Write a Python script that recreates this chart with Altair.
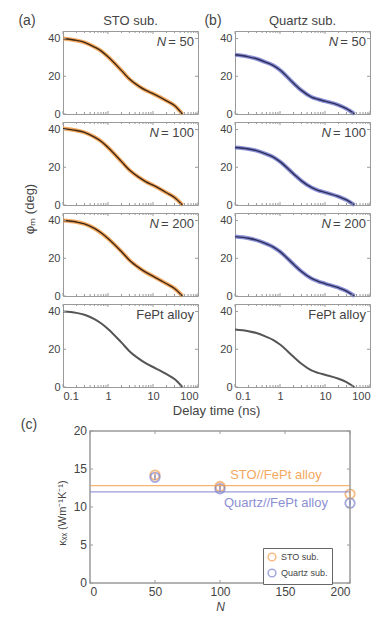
import altair as alt
import pandas as pd

# ---------------- data ----------------
t_ns = [0.1, 0.2, 0.3, 0.5, 0.7, 1, 2, 3, 5, 7, 10, 20, 30, 45]

sto_50 = [40, 39, 38, 35.5, 33.5, 30.3, 23, 18.5, 14.5, 12.5, 10.8, 7, 4.5, 0]
sto_100 = [40.5, 39.5, 38.5, 36, 33.8, 30.5, 23, 18.5, 14.5, 12.3, 10.5, 6.5, 4, 0]
sto_200 = [40, 39.2, 38.2, 35.8, 33.5, 30.5, 23.5, 19, 14.8, 12.5, 10.5, 6.5, 4, 0]
fept_a = [40, 39.3, 38.3, 36, 33.8, 30.8, 23.5, 19, 14.8, 12.5, 10.6, 6.8, 4.2, 0]

quartz_50 = [31.4, 30.3, 29.3, 27.3, 25.8, 23.3, 16.3, 12.5, 9, 7.8, 6.8, 4.7, 2.8, 0]
quartz_100 = [30.5, 29.7, 28.8, 27, 25.5, 23, 16.5, 12.8, 9.3, 7.8, 6.7, 4.5, 2.7, 0]
quartz_200 = [31.5, 30.6, 29.6, 27.6, 26, 23.5, 16.8, 13, 9.3, 7.8, 6.6, 4.4, 2.6, 0]
fept_b = [30.5, 29.6, 28.6, 26.6, 25, 22.5, 16, 12.3, 8.8, 7.5, 6.5, 4.4, 2.6, 0]

row_labels = ["50", "100", "200", "FePt alloy"]

# tick positions of the delay-time axes
x_major = [0.1, 1, 10, 100]
x_minor = [0.2, 0.3, 0.4, 0.5, 0.6, 0.7, 0.8, 0.9, 2, 3, 4, 5, 6, 7, 8, 9,
           20, 30, 40, 50, 60, 70, 80, 90]
y_major = [0, 20, 40]

n_layers = [50, 100, 200]
kappa_sto = [14.2, 12.7, 11.7]
kappa_quartz = [13.9, 12.4, 10.5]
kappa_err = [0.35, 0.35, 0.35]
alloy_names = ["STO//FePt alloy", "Quartz//FePt alloy"]
alloy_levels = [12.8, 12.0]
alloy_label_pos = [(143, 14.2), (143, 10.5)]
c_x_ticks = [0, 50, 100, 150, 200]
c_y_ticks = [0, 5, 10, 15, 20]

# ---------------- style ----------------
FONT = "Liberation Sans"
TXT = "#444444"
FRAME = "#9a9a9a"
ORANGE = "#f3a04f"
ORANGE_DARK = "#3e2716"
BLUE = "#7f84cf"
BLUE_DARK = "#2c2f5e"
GRAY = "#555555"

W = 135
H = 83
GAP_COL = 37

# panel (c) geometry, relative to the bottom-left panel (a) origin
CX0, CX1 = 27, 287
CY_TOP, CY_BOT = 127, 279


def txt(s, x, y, size=13, align="center", baseline="middle", color=TXT, **kw):
    return alt.Chart(pd.DataFrame({"s": [s]})).mark_text(
        align=align, baseline=baseline, fontSize=size, font=FONT, color=color, **kw
    ).encode(x=alt.value(x), y=alt.value(y), text="s:N")


XS = alt.Scale(type="log", domain=[0.1, 100])
YS = alt.Scale(domain=[0, 44], nice=False)


def xenc(field, last):
    return alt.X(field, scale=XS, axis=alt.Axis(
        values=x_major, format="~g", labels=last, title=None, grid=False, orient="bottom",
        ticks=False, domain=False, labelFontSize=11, labelPadding=3))


def yenc(field):
    return alt.Y(field, scale=YS, axis=alt.Axis(
        values=y_major, title=None, grid=False, ticks=False, orient="left",
        domain=False, labelFontSize=11, labelPadding=3))


def inner_ticks(last):
    out = []
    for vals, ln in [(x_major, 3), (x_minor, 2)]:
        d = pd.DataFrame({"v": vals})
        out.append(alt.Chart(d).mark_rule(color=FRAME, strokeWidth=1).encode(
            x=xenc("v:Q", last), y=alt.value(H), y2=alt.value(H - ln)))
        out.append(alt.Chart(d).mark_rule(color=FRAME, strokeWidth=1).encode(
            x=xenc("v:Q", last), y=alt.value(0), y2=alt.value(ln)))
    d = pd.DataFrame({"v": y_major})
    out.append(alt.Chart(d).mark_rule(color=FRAME, strokeWidth=1).encode(
        y=yenc("v:Q"), x=alt.value(0), x2=alt.value(3)))
    out.append(alt.Chart(d).mark_rule(color=FRAME, strokeWidth=1).encode(
        y=yenc("v:Q"), x=alt.value(W), x2=alt.value(W - 3)))
    return out


def panel(vals, kind, label, last):
    df = pd.DataFrame({"t": t_ns, "phi": vals})
    base = alt.Chart(df).encode(x=xenc("t:Q", last), y=yenc("phi:Q"))
    if kind == "sto":
        layers = [
            base.mark_line(color=ORANGE, strokeWidth=4, opacity=0.9, interpolate="monotone"),
            base.mark_line(color=ORANGE_DARK, strokeWidth=1.4, interpolate="monotone"),
        ]
    elif kind == "quartz":
        layers = [
            base.mark_line(color=BLUE, strokeWidth=4, opacity=0.9, interpolate="monotone"),
            base.mark_line(color=BLUE_DARK, strokeWidth=1.4, interpolate="monotone"),
        ]
    else:
        layers = [base.mark_line(color=GRAY, strokeWidth=2, interpolate="monotone")]
    layers += inner_ticks(last)

    if label == "FePt alloy":
        layers.append(txt(label, W - 4, 5, align="right", baseline="top"))
    else:
        layers.append(txt("= " + label, W - 4, 5, align="right", baseline="top"))
        nw = 7.3 * (len(label) + 1) + 6
        layers.append(txt("N", W - 4 - nw, 5, align="right", baseline="top", fontStyle="italic"))
    return layers


# ---------------- panel (c) as an overlay below the grid ----------------
CXS = alt.Scale(domain=[0, 200], range=[CX0, CX1], nice=False)
CYS = alt.Scale(domain=[0, 20], range=[CY_BOT, CY_TOP], nice=False)


def cx(field):
    return alt.X(field, scale=CXS,
                 axis=alt.Axis(values=c_x_ticks, title="N", titleFontStyle="italic",
                               titleFontWeight="normal", titleFontSize=12, titlePadding=4,
                               orient="bottom", offset=CY_BOT - H, labelOverlap=False,
                               grid=False, ticks=False, domain=False,
                               labelFontSize=12, labelPadding=3, labelColor=TXT))


def cy(field):
    return alt.Y(field, scale=CYS, axis=None)


kdf = pd.DataFrame({
    "N": n_layers * 2,
    "kappa": kappa_sto + kappa_quartz,
    "err": kappa_err * 2,
    "sub": ["STO sub."] * 3 + ["Quartz sub."] * 3,
})
kdf["lo"] = kdf["kappa"] - kdf["err"]
kdf["hi"] = kdf["kappa"] + kdf["err"]

adf = pd.DataFrame({"name": alloy_names, "level": alloy_levels,
                    "tx": [p[0] for p in alloy_label_pos], "ty": [p[1] for p in alloy_label_pos]})

frame_c = alt.Chart(pd.DataFrame({"k": [0]})).mark_rect(
    filled=False, stroke=FRAME, strokeWidth=1.5
).encode(x=alt.value(CX0), x2=alt.value(CX1), y=alt.value(CY_TOP), y2=alt.value(CY_BOT))

sub_scale = alt.Scale(domain=["STO sub.", "Quartz sub."], range=[ORANGE, BLUE])
pts = alt.Chart(kdf).mark_point(shape="circle", filled=False, size=90, strokeWidth=1.8).encode(
    x=cx("N:Q"), y=cy("kappa:Q"),
    color=alt.Color("sub:N", scale=sub_scale,
                    legend=alt.Legend(title=None, orient="none", legendX=200, legendY=244,
                                      symbolType="circle", symbolFillColor="white",
                                      symbolStrokeWidth=1.5, labelFontSize=9, labelFont=FONT,
                                      labelColor=TXT, strokeColor="#666", fillColor="white",
                                      padding=4, symbolSize=60, rowPadding=2)))

c_layers = [pts, frame_c]
for i, colr in enumerate([ORANGE, BLUE]):
    sub = adf.iloc[[i]]
    c_layers.append(alt.Chart(sub).mark_rule(color=colr, strokeWidth=1.2, opacity=0.8).encode(
        x=alt.value(CX0), x2=alt.value(CX1), y=cy("level:Q")))
    c_layers.append(alt.Chart(sub).mark_text(color=colr, fontSize=13, font=FONT, opacity=0.9).encode(
        x=cx("tx:Q"), y=cy("ty:Q"), text="name:N"))
for name, colr in [("STO sub.", ORANGE), ("Quartz sub.", BLUE)]:
    c_layers.append(alt.Chart(kdf[kdf["sub"] == name]).mark_rule(color=colr, strokeWidth=1.2).encode(
        x=cx("N:Q"), y=cy("lo:Q"), y2="hi:Q"))

# y tick labels and inward ticks of panel (c)
cyt = pd.DataFrame({"v": c_y_ticks, "s": [str(v) for v in c_y_ticks]})
cxt = pd.DataFrame({"v": c_x_ticks})
c_layers.append(alt.Chart(cyt).mark_text(align="right", baseline="middle", fontSize=12,
                                         font=FONT, color=TXT).encode(
    x=alt.value(CX0 - 3), y=cy("v:Q"), text="s:N"))
c_layers.append(alt.Chart(cyt).mark_rule(color=FRAME).encode(
    y=cy("v:Q"), x=alt.value(CX0), x2=alt.value(CX0 + 3)))
c_layers.append(alt.Chart(cyt).mark_rule(color=FRAME).encode(
    y=cy("v:Q"), x=alt.value(CX1), x2=alt.value(CX1 - 3)))
c_layers.append(alt.Chart(cxt).mark_rule(color=FRAME).encode(
    x=cx("v:Q"), y=alt.value(CY_BOT), y2=alt.value(CY_BOT - 3)))
c_layers.append(alt.Chart(cxt).mark_rule(color=FRAME).encode(
    x=cx("v:Q"), y=alt.value(CY_TOP), y2=alt.value(CY_TOP + 3)))
c_layers.append(txt("κₓₓ (Wm⁻¹K⁻¹)", 0, (CY_TOP + CY_BOT) / 2 + 6, size=11, angle=270))
c_layers.append(txt("(c)", -34, CY_TOP - 6, size=14))
panel_c = alt.layer(*c_layers)

# ---------------- grid of the eight delay-time panels ----------------
col_a_vals = [sto_50, sto_100, sto_200, fept_a]
col_b_vals = [quartz_50, quartz_100, quartz_200, fept_b]
kinds_a = ["sto", "sto", "sto", "gray"]
kinds_b = ["quartz", "quartz", "quartz", "gray"]

col_a = [panel(v, k, l, i == 3) for i, (v, k, l) in enumerate(zip(col_a_vals, kinds_a, row_labels))]
col_b = [panel(v, k, l, i == 3) for i, (v, k, l) in enumerate(zip(col_b_vals, kinds_b, row_labels))]

col_a[0] += [txt("(a)", -36, -3, size=14, baseline="bottom"),
             txt("STO sub.", W / 2, -3, baseline="bottom")]
col_b[0] += [txt("(b)", -22, -3, size=14, baseline="bottom"),
             txt("Quartz sub.", W / 2, -3, baseline="bottom")]
col_a[1] += [txt("φₘ (deg)", -33, H + 4, angle=270)]
col_a[3] += [txt("Delay time (ns)", W + GAP_COL / 2, H + 18, baseline="top")]

panels = []
for i, (la, lb) in enumerate(zip(col_a, col_b)):
    if i == 3:
        pa = alt.layer(alt.layer(*la), panel_c).resolve_scale(
            x="independent", y="independent", color="independent")
    else:
        pa = alt.layer(*la)
    panels.append(pa.properties(width=W, height=H))
    panels.append(alt.layer(*lb).properties(width=W, height=H))

chart = alt.concat(
    *panels, columns=2, spacing={"row": 8, "column": GAP_COL}, bounds="flush"
).configure(
    font=FONT,
).configure_view(
    stroke=FRAME, strokeWidth=1,
).configure_axis(
    labelColor=TXT, titleColor=TXT, labelFont=FONT, titleFont=FONT,
).properties(
    padding={"left": 9, "right": 0, "top": 5, "bottom": 0},
)

chart.save("out.html", embed_options={"renderer": "svg", "actions": False})
